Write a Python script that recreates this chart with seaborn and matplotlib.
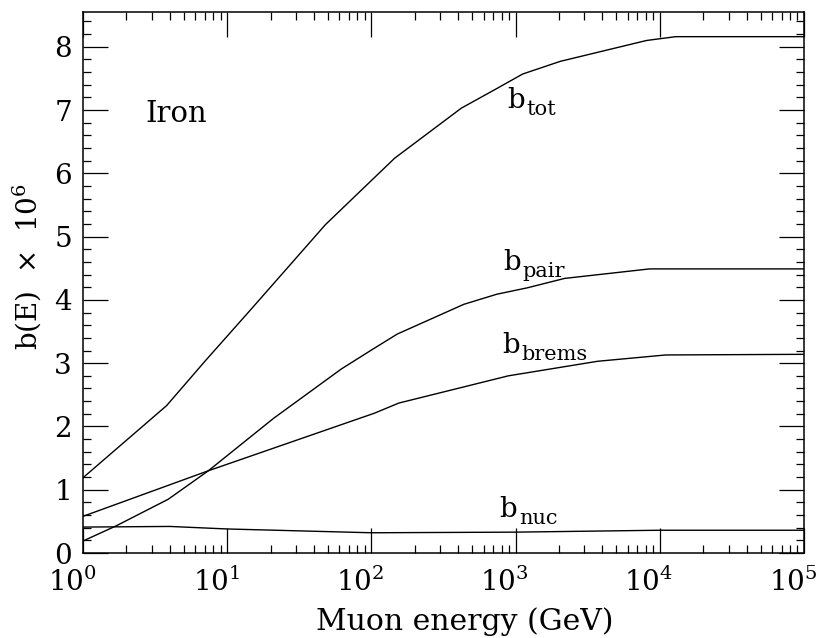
import numpy as np
import pandas as pd
import matplotlib
matplotlib.use("Agg")
import matplotlib.pyplot as plt
from matplotlib.ticker import MultipleLocator, LogLocator, NullFormatter
from matplotlib.transforms import ScaledTranslation
import seaborn as sns


# energy-loss curves for iron (E in GeV, b in 1e-6 g^-1 cm^2)
tot_E = [1, 3.8, 7, 15, 48, 145, 420, 740, 1120, 2040, 8100, 12900, 1e5]
tot_b = [1.19, 2.33, 3.03, 3.88, 5.19, 6.24, 7.03, 7.34, 7.57, 7.77, 8.10, 8.16, 8.16]

pair_E = [1, 1.7, 3.9, 7.4, 21, 62, 102, 151, 437, 741, 1200, 2190, 8500, 1e5]
pair_b = [0.19, 0.43, 0.85, 1.30, 2.13, 2.91, 3.22, 3.46, 3.93, 4.09, 4.19, 4.34, 4.49, 4.49]

brems_E = [1, 7.4, 105, 155, 890, 3700, 11000, 1e5]
brems_b = [0.58, 1.30, 2.21, 2.37, 2.80, 3.03, 3.13, 3.14]

nuc_E = [1, 4, 10, 100, 1000, 10000, 1e5]
nuc_b = [0.41, 0.42, 0.38, 0.32, 0.33, 0.36, 0.36]

curve_names = ["tot", "pair", "brems", "nuc"]
x_ticks = [1, 10, 100, 1000, 10000, 100000]
y_ticks = [0, 1, 2, 3, 4, 5, 6, 7, 8]

df = pd.concat([
    pd.DataFrame({"E": tot_E, "b": tot_b, "curve": "tot"}),
    pd.DataFrame({"E": pair_E, "b": pair_b, "curve": "pair"}),
    pd.DataFrame({"E": brems_E, "b": brems_b, "curve": "brems"}),
    pd.DataFrame({"E": nuc_E, "b": nuc_b, "curve": "nuc"}),
])

sns.set_style("ticks")
plt.rcParams["font.family"] = ["DejaVu Serif"]
plt.rcParams["mathtext.fontset"] = "dejavuserif"
plt.rcParams["text.color"] = "black"
plt.rcParams["axes.labelcolor"] = "black"
plt.rcParams["xtick.color"] = "black"
plt.rcParams["ytick.color"] = "black"

fig = plt.figure(figsize=(8.23, 6.38), dpi=100)
ax = fig.add_axes([0.1009, 0.1332, 0.876, 0.848])

for name in curve_names:
    sub = df[df["curve"] == name]
    sns.lineplot(data=sub, x="E", y="b", color="black", linewidth=1.0,
                 estimator=None, sort=False, ax=ax)

ax.set_xscale("log")
ax.set_xlim(1, 1e5)
ax.set_ylim(0, 8.55)
ax.set_xticks(x_ticks)
ax.xaxis.set_minor_locator(LogLocator(base=10, subs=np.arange(2, 10)))
ax.xaxis.set_minor_formatter(NullFormatter())
ax.set_yticks(y_ticks)
ax.yaxis.set_minor_locator(MultipleLocator(0.2))

ax.tick_params(which="both", direction="in", top=True, right=True,
               width=0.9, labelsize=20)
ax.tick_params(which="major", length=18)
ax.tick_params(axis="y", which="major", pad=8)
ax.tick_params(axis="x", which="major", pad=11)
ax.tick_params(which="minor", length=6)
for sp in ax.spines.values():
    sp.set_linewidth(1.1)
    sp.set_color("black")

# the "10" sits left of the tick, exponent to its right
shift = ScaledTranslation(-8 / 72, 0, fig.dpi_scale_trans)
for lbl in ax.get_xticklabels():
    lbl.set_transform(lbl.get_transform() + shift)

ax.set_xlabel("Muon energy (GeV)", fontsize=21.5)
ax.set_ylabel(r"b(E)  $\times$  10$^6$", fontsize=20)
ax.xaxis.set_label_coords(0.53, -0.1)
ax.yaxis.set_label_coords(-0.055, 0.53)

ax.text(0.086, 0.797, "Iron", transform=ax.transAxes, fontsize=21,
        ha="left", va="baseline")
labels = {
    "tot": (0.588, 0.823),
    "pair": (0.583, 0.523),
    "brems": (0.581, 0.370),
    "nuc": (0.578, 0.0665),
}
for name, (tx, ty) in labels.items():
    ax.text(tx, ty, "b", transform=ax.transAxes, fontsize=20,
            ha="left", va="baseline")
    ax.annotate(name, xy=(tx, ty), xycoords="axes fraction",
                xytext=(14, -5), textcoords="offset points",
                fontsize=15, ha="left", va="baseline")

fig.savefig("out.png", dpi=100, facecolor="white")
